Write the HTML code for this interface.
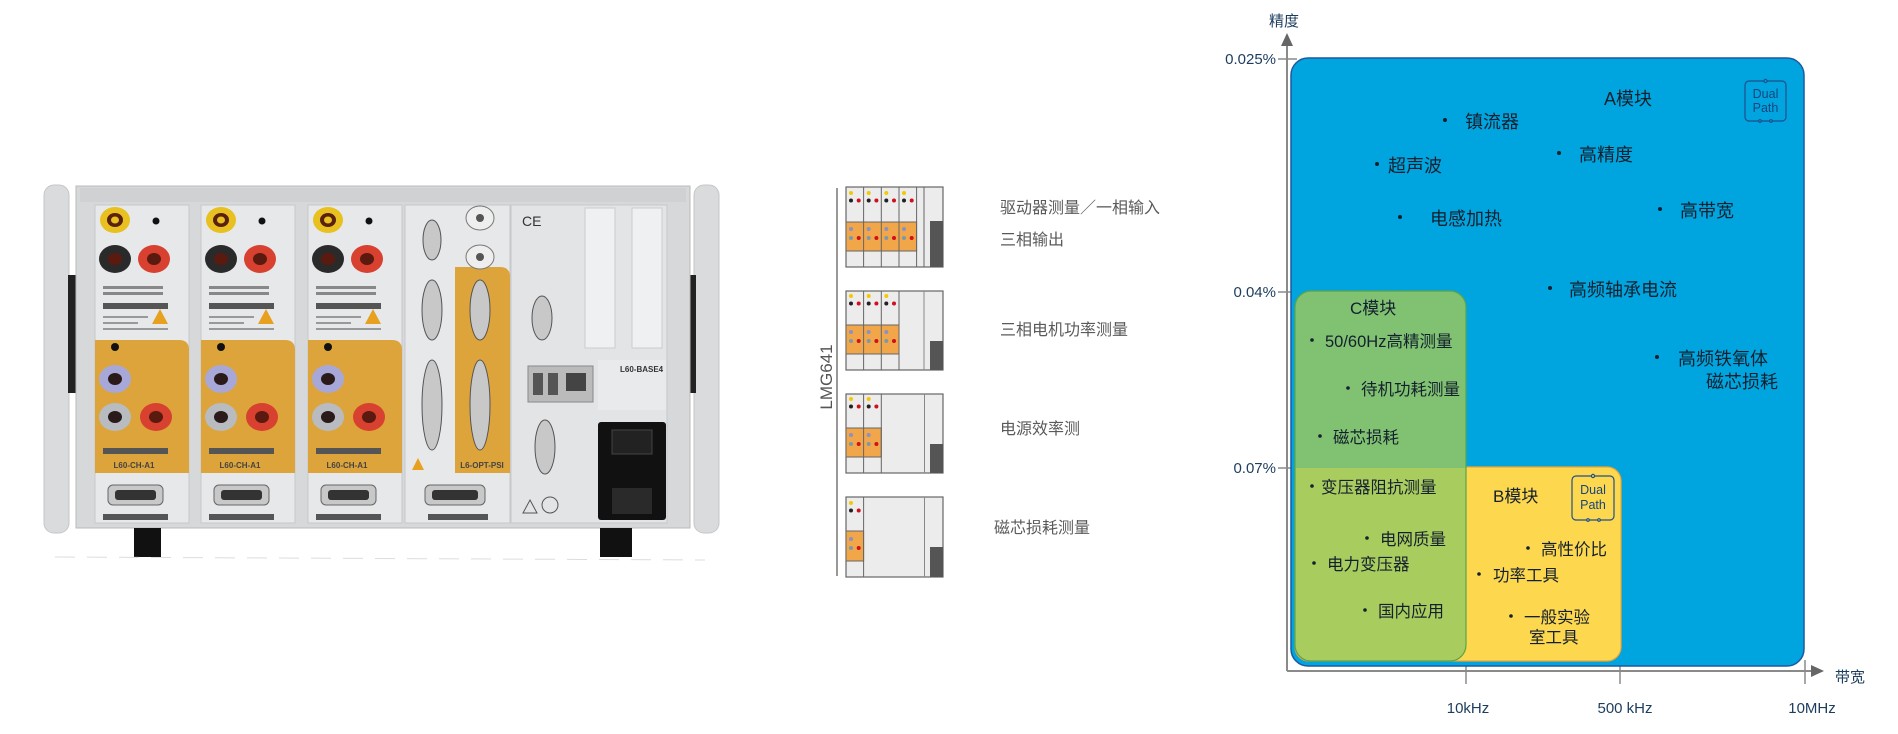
<!DOCTYPE html>
<html><head><meta charset="utf-8"><style>
html,body{margin:0;padding:0;background:#fff;}
svg{display:block;}
text{font-family:"Liberation Sans","Noto Sans CJK SC",sans-serif;}
</style></head><body>
<svg width="1898" height="734" viewBox="0 0 1898 734" xmlns="http://www.w3.org/2000/svg">
<!-- ===== PHOTO ===== -->
<g>
  <rect x="44" y="185" width="25" height="348" rx="10" fill="#d9dbdd" stroke="#c4c6c8"/>
  <rect x="694" y="185" width="25" height="348" rx="10" fill="#d9dbdd" stroke="#c4c6c8"/>
  <rect x="68" y="275" width="8" height="118" fill="#222"/>
  <rect x="688" y="275" width="8" height="118" fill="#222"/>
  <rect x="76" y="186" width="614" height="342" fill="#d6d8da" stroke="#bbb"/>
  <rect x="80" y="188" width="606" height="14" fill="#cfd1d3"/>
  <rect x="134" y="528" width="27" height="29" fill="#111"/>
  <rect x="600" y="528" width="32" height="29" fill="#111"/>
  <line x1="55" y1="557" x2="705" y2="560" stroke="#ddd" stroke-dasharray="20 12"/>
  <g id="ch">
    <rect x="95" y="205" width="94" height="318" fill="#e6e8ea" stroke="#c8c8c8"/>
    <path d="M95 340 H179 Q189 340 189 350 V473 H95 Z" fill="#dca43a"/>
    <ellipse cx="115" cy="220" rx="15" ry="13" fill="#e8c020"/><ellipse cx="115" cy="220" rx="8" ry="7" fill="#5a2010"/><ellipse cx="115" cy="220" rx="4" ry="3.5" fill="#e8c020"/>
    <circle cx="156" cy="221" r="3.5" fill="#111"/>
    <ellipse cx="115" cy="259" rx="16" ry="14" fill="#2a2a2a"/><ellipse cx="115" cy="259" rx="7" ry="6" fill="#5a1a10"/>
    <ellipse cx="154" cy="259" rx="16" ry="14" fill="#d84030"/><ellipse cx="154" cy="259" rx="7" ry="6" fill="#5a1a10"/>
    <rect x="103" y="286" width="60" height="3" fill="#888"/><rect x="103" y="292" width="60" height="3" fill="#888"/>
    <rect x="103" y="303" width="65" height="6" fill="#555"/>
    <rect x="103" y="316" width="45" height="2" fill="#999"/><rect x="103" y="322" width="35" height="2" fill="#999"/><rect x="103" y="328" width="65" height="2" fill="#999"/>
    <path d="M160 309 L168 324 L152 324 Z" fill="#e8a020"/>
    <circle cx="115" cy="347" r="4" fill="#111"/>
    <ellipse cx="115" cy="379" rx="16" ry="14" fill="#a8a8d8"/><ellipse cx="115" cy="379" rx="7" ry="6" fill="#2a1a1a"/>
    <ellipse cx="115" cy="417" rx="16" ry="14" fill="#b8bcc0"/><ellipse cx="115" cy="417" rx="7" ry="6" fill="#2a1a1a"/>
    <ellipse cx="156" cy="417" rx="16" ry="14" fill="#d84030"/><ellipse cx="156" cy="417" rx="7" ry="6" fill="#5a1a10"/>
    <rect x="103" y="448" width="65" height="6" fill="#555"/>
    <text x="134" y="468" font-size="8" fill="#444" text-anchor="middle" font-weight="bold">L60-CH-A1</text>
    <rect x="108" y="485" width="55" height="20" rx="5" fill="#c8c8c8" stroke="#666"/>
    <rect x="115" y="490" width="41" height="10" rx="3" fill="#333"/>
    <rect x="103" y="514" width="65" height="6" fill="#555"/>
  </g>
  <use href="#ch" transform="translate(106,0)"/>
  <use href="#ch" transform="translate(213,0)"/>
  <rect x="405" y="205" width="105" height="318" fill="#e6e8ea" stroke="#c8c8c8"/>
  <path d="M455 267 H500 Q510 267 510 277 V473 H455 Z" fill="#dca43a"/>
  <ellipse cx="432" cy="240" rx="9" ry="20" fill="#c8c8c8" stroke="#555"/>
  <ellipse cx="480" cy="218" rx="14" ry="12" fill="#eee" stroke="#777"/><circle cx="480" cy="218" r="4" fill="#555"/>
  <ellipse cx="480" cy="257" rx="14" ry="12" fill="#eee" stroke="#777"/><circle cx="480" cy="257" r="4" fill="#555"/>
  <ellipse cx="432" cy="310" rx="10" ry="30" fill="#c8c8c8" stroke="#555"/>
  <ellipse cx="480" cy="310" rx="10" ry="30" fill="#c8c8c8" stroke="#555"/>
  <ellipse cx="432" cy="405" rx="10" ry="45" fill="#c8c8c8" stroke="#555"/>
  <ellipse cx="480" cy="405" rx="10" ry="45" fill="#c8c8c8" stroke="#555"/>
  <path d="M418 458 L424 470 L412 470 Z" fill="#e8a020"/>
  <text x="482" y="468" font-size="8" fill="#444" text-anchor="middle" font-weight="bold">L6-OPT-PSI</text>
  <rect x="425" y="485" width="60" height="20" rx="5" fill="#c8c8c8" stroke="#666"/>
  <rect x="432" y="490" width="46" height="10" rx="3" fill="#333"/>
  <rect x="428" y="514" width="60" height="6" fill="#555"/>
  <rect x="511" y="205" width="156" height="318" fill="#e2e4e6" stroke="#c8c8c8"/>
  <text x="522" y="226" font-size="14" fill="#333">CE</text>
  <rect x="585" y="208" width="30" height="140" fill="#eef0f2" stroke="#ccc"/>
  <rect x="632" y="208" width="30" height="140" fill="#eef0f2" stroke="#ccc"/>
  <ellipse cx="542" cy="318" rx="10" ry="22" fill="#c8c8c8" stroke="#555"/>
  <rect x="528" y="366" width="65" height="36" fill="#bbb" stroke="#888"/>
  <rect x="533" y="373" width="10" height="22" fill="#555"/><rect x="548" y="373" width="10" height="22" fill="#555"/><rect x="566" y="373" width="20" height="18" fill="#444"/>
  <rect x="598" y="360" width="68" height="50" fill="#e8eaec"/>
  <text x="620" y="372" font-size="8" fill="#333" font-weight="bold">L60-BASE4</text>
  <ellipse cx="545" cy="447" rx="10" ry="27" fill="#c8c8c8" stroke="#555"/>
  <rect x="598" y="422" width="68" height="98" rx="3" fill="#111"/>
  <rect x="612" y="430" width="40" height="24" fill="#222" stroke="#444"/>
  <rect x="612" y="488" width="40" height="26" fill="#2a2a2a"/>
  <path d="M530 500 L537 513 L523 513 Z" fill="none" stroke="#555"/>
  <circle cx="550" cy="505" r="8" fill="none" stroke="#555"/>
</g>

<!-- ===== MIDDLE ===== -->
<line x1="837" y1="188" x2="837" y2="576" stroke="#999" stroke-width="2"/>
<text transform="translate(832,377) rotate(-90)" font-size="17" fill="#555" text-anchor="middle">LMG641</text>
<g>
  <rect x="846" y="187" width="97" height="80" fill="#ececec" stroke="#666" stroke-width="1.2"/>
  <rect x="846" y="222" width="70.6" height="29" fill="#f2a64a" stroke="#666" stroke-width="1"/>
  <rect x="930" y="221" width="13" height="46" fill="#555"/>
  <line x1="916.6" y1="187" x2="916.6" y2="267" stroke="#666"/>
  <line x1="924" y1="187" x2="924" y2="267" stroke="#666"/>
  <line x1="846" y1="251" x2="916.6" y2="251" stroke="#666"/>
  <line x1="863.6" y1="187" x2="863.6" y2="267" stroke="#666"/>
  <line x1="881.3" y1="187" x2="881.3" y2="267" stroke="#666"/>
  <line x1="899" y1="187" x2="899" y2="267" stroke="#666"/>
</g>
<g id="dots">
  <circle cx="851" cy="193" r="2" fill="#f5c800"/><circle cx="851" cy="200.5" r="2" fill="#222"/><circle cx="858.7" cy="200.5" r="2" fill="#d0101a"/>
  <circle cx="851" cy="229" r="2" fill="#8a90c8"/><circle cx="851" cy="238" r="2" fill="#7a9aaa"/><circle cx="858.7" cy="238" r="2" fill="#d0101a"/>
</g>
<use href="#dots" transform="translate(17.7,0)"/><use href="#dots" transform="translate(35.3,0)"/><use href="#dots" transform="translate(53,0)"/>

<rect x="846" y="291" width="97" height="79" fill="#ececec" stroke="#666" stroke-width="1.2"/>
<rect x="846" y="325" width="53" height="29" fill="#f2a64a" stroke="#666"/>
<line x1="846" y1="354" x2="899" y2="354" stroke="#666"/>
<line x1="863.6" y1="291" x2="863.6" y2="370" stroke="#666"/><line x1="881.3" y1="291" x2="881.3" y2="370" stroke="#666"/><line x1="899" y1="291" x2="899" y2="370" stroke="#666"/>
<line x1="924" y1="291" x2="924" y2="370" stroke="#888"/>
<rect x="930" y="341" width="13" height="29" fill="#555"/>
<use href="#dots" transform="translate(0,103)"/><use href="#dots" transform="translate(17.7,103)"/><use href="#dots" transform="translate(35.3,103)"/>
<rect x="846" y="394" width="97" height="79" fill="#ececec" stroke="#666" stroke-width="1.2"/>
<rect x="846" y="428" width="35.3" height="29" fill="#f2a64a" stroke="#666"/>
<line x1="846" y1="457" x2="881.3" y2="457" stroke="#666"/>
<line x1="863.6" y1="394" x2="863.6" y2="473" stroke="#666"/><line x1="881.3" y1="394" x2="881.3" y2="473" stroke="#666"/>
<line x1="924.5" y1="394" x2="924.5" y2="473" stroke="#888"/>
<rect x="930" y="444" width="13" height="29" fill="#555"/>
<use href="#dots" transform="translate(0,206)"/><use href="#dots" transform="translate(17.7,206)"/>
<rect x="846" y="497" width="97" height="80" fill="#ececec" stroke="#666" stroke-width="1.2"/>
<rect x="846" y="531" width="17.6" height="30" fill="#f2a64a" stroke="#666"/>
<line x1="846" y1="561" x2="863.6" y2="561" stroke="#666"/>
<line x1="863.6" y1="497" x2="863.6" y2="577" stroke="#666"/>
<line x1="924.5" y1="497" x2="924.5" y2="577" stroke="#888"/>
<rect x="930" y="547" width="13" height="30" fill="#555"/>
<use href="#dots" transform="translate(0,310)"/>

<g font-size="16" fill="#5a5a5a">
  <text x="1000" y="213">驱动器测量／一相输入</text>
  <text x="1000" y="245">三相输出</text>
  <text x="1000" y="335">三相电机功率测量</text>
  <text x="1000" y="434">电源效率测</text>
  <text x="994" y="533">磁芯损耗测量</text>
</g>

<!-- ===== CHART ===== -->
<line x1="1287" y1="671" x2="1287" y2="44" stroke="#8a8a8a" stroke-width="2"/>
<path d="M1281 46 L1287 33 L1293 46 Z" fill="#666"/>
<line x1="1287" y1="671" x2="1812" y2="671" stroke="#8a8a8a" stroke-width="2"/>
<path d="M1811 665 L1824 671 L1811 677 Z" fill="#666"/>
<g stroke="#8a8a8a" stroke-width="1.5">
  <line x1="1278" y1="59" x2="1297" y2="59"/>
  <line x1="1278" y1="292" x2="1297" y2="292"/>
  <line x1="1278" y1="468" x2="1297" y2="468"/>
  <line x1="1466" y1="660" x2="1466" y2="684"/>
  <line x1="1620" y1="660" x2="1620" y2="684"/>
  <line x1="1805" y1="660" x2="1805" y2="684"/>
</g>
<rect x="1291" y="58" width="513" height="608" rx="17" fill="#00a5df" stroke="#1d5aa0" stroke-width="1.5"/>
<rect x="1295" y="467" width="326" height="194" rx="14" fill="#fdd84e" stroke="#f0a535" stroke-width="1.2"/>
<defs><clipPath id="cc"><rect x="1295" y="291" width="171" height="370" rx="16"/></clipPath></defs>
<g clip-path="url(#cc)">
  <rect x="1295" y="291" width="171" height="177" fill="#80c272"/>
  <rect x="1295" y="468" width="171" height="193" fill="#a9cc5e"/>
</g>
<rect x="1295" y="291" width="171" height="370" rx="16" fill="none" stroke="#5aa34a" stroke-width="1.2"/>

<g fill="#1c3d5e" font-size="15">
  <text x="1269" y="26">精度</text>
  <text x="1276" y="64" text-anchor="end">0.025%</text>
  <text x="1276" y="297" text-anchor="end">0.04%</text>
  <text x="1276" y="473" text-anchor="end">0.07%</text>
  <text x="1835" y="682">带宽</text>
  <text x="1468" y="713" text-anchor="middle">10kHz</text>
  <text x="1625" y="713" text-anchor="middle">500 kHz</text>
  <text x="1812" y="713" text-anchor="middle">10MHz</text>
</g>

<g fill="none" stroke="#1f4f8a" stroke-width="1.2">
  <rect x="1745" y="81" width="41" height="40" rx="4"/>
  <circle cx="1765.5" cy="81" r="1.6" fill="#00a5df"/>
  <circle cx="1760" cy="121" r="1.3" fill="#00a5df"/><circle cx="1771" cy="121" r="1.3" fill="#00a5df"/>
  <rect x="1572" y="476" width="42" height="44" rx="4"/>
  <circle cx="1593" cy="476" r="1.6" fill="#fdd84e"/>
  <circle cx="1588" cy="520" r="1.3" fill="#fdd84e"/><circle cx="1599" cy="520" r="1.3" fill="#fdd84e"/>
</g>
<g fill="#16457e" font-size="12.5" text-anchor="middle">
  <text x="1765.5" y="98">Dual</text>
  <text x="1765.5" y="112">Path</text>
  <text x="1593" y="494">Dual</text>
  <text x="1593" y="509">Path</text>
</g>

<g fill="#15202e" font-size="18">
  <text x="1628" y="105" text-anchor="middle">A模块</text>
  <circle cx="1445" cy="120" r="2"/><text x="1465" y="128">镇流器</text>
  <circle cx="1377" cy="164" r="2"/><text x="1388" y="172">超声波</text>
  <circle cx="1559" cy="153" r="2"/><text x="1579" y="161">高精度</text>
  <circle cx="1400" cy="217" r="2"/><text x="1430" y="225">电感加热</text>
  <circle cx="1660" cy="209" r="2"/><text x="1680" y="217">高带宽</text>
  <circle cx="1550" cy="288" r="2"/><text x="1569" y="296">高频轴承电流</text>
  <circle cx="1657" cy="357" r="2"/><text x="1678" y="365">高频铁氧体</text>
  <text x="1706" y="388">磁芯损耗</text>
  <text x="1350" y="314" font-size="17">C模块</text>
  <g font-size="16.5">
  <circle cx="1312" cy="340" r="1.8"/><text x="1325" y="347">50/60Hz高精测量</text>
  <circle cx="1348" cy="388" r="1.8"/><text x="1361" y="395">待机功耗测量</text>
  <circle cx="1320" cy="436" r="1.8"/><text x="1333" y="443">磁芯损耗</text>
  <circle cx="1312" cy="486" r="1.8"/><text x="1321" y="493">变压器阻抗测量</text>
  <circle cx="1367" cy="538" r="1.8"/><text x="1380" y="545">电网质量</text>
  <circle cx="1314" cy="563" r="1.8"/><text x="1327" y="570">电力变压器</text>
  <circle cx="1365" cy="610" r="1.8"/><text x="1378" y="617">国内应用</text>
  <circle cx="1528" cy="548" r="1.8"/><text x="1541" y="555">高性价比</text>
  <circle cx="1479" cy="574" r="1.8"/><text x="1493" y="581">功率工具</text>
  <circle cx="1511" cy="616" r="1.8"/><text x="1524" y="623">一般实验</text>
  <text x="1529" y="643">室工具</text>
  </g>
  <text x="1493" y="502" font-size="17">B模块</text>
</g>
</svg>
</body></html>
